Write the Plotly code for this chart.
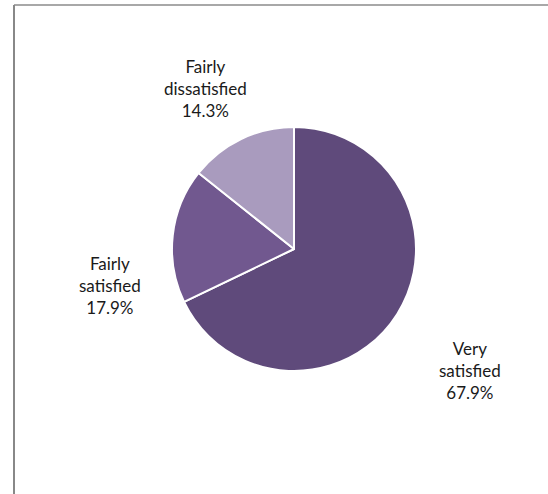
import plotly.graph_objects as go

# Survey responses: satisfaction levels and counts
categories = ["Very satisfied", "Fairly satisfied", "Fairly dissatisfied"]
counts = [19, 5, 4]
colors = ["#5F4A7B", "#71588F", "#A99BBE"]

W, H = 548, 494
total = sum(counts)

fig = go.Figure(
    go.Pie(
        labels=categories,
        values=counts,
        sort=False,
        direction="clockwise",
        rotation=0,
        marker=dict(colors=colors, line=dict(color="white", width=2)),
        textinfo="none",
        hoverinfo="label+percent",
        showlegend=False,
        domain=dict(x=[172 / W, 416 / W], y=[(H - 371) / H, (H - 127) / H]),
    )
)

# Outside labels: category words on separate lines, then the share
label_pos = {
    "Very satisfied": (470, 370),
    "Fairly satisfied": (110, 285),
    "Fairly dissatisfied": (205, 89),
}
for cat, n in zip(categories, counts):
    px, py = label_pos[cat]
    words = cat.split(" ")
    text = "<br>".join(words + [f"{n / total * 100:.1f}%"])
    fig.add_annotation(
        x=px / W, y=1 - py / H, xref="paper", yref="paper",
        text=text, showarrow=False, xanchor="center", yanchor="middle",
        align="center",
        font=dict(family="Lato, Open Sans, sans-serif", size=17, color="#1a1a1a"),
    )

# Chart frame border (top and left edges visible)
fig.add_shape(type="line", xref="paper", yref="paper",
              x0=14 / W, x1=1.0, y0=1 - 5 / H, y1=1 - 5 / H,
              line=dict(color="#A8A8A8", width=2))
fig.add_shape(type="line", xref="paper", yref="paper",
              x0=14 / W, x1=14 / W, y0=1 - 5 / H, y1=0.0,
              line=dict(color="#888888", width=2))

fig.update_layout(
    width=W, height=H,
    margin=dict(l=0, r=0, t=0, b=0),
    paper_bgcolor="white",
    plot_bgcolor="white",
)

fig.write_html("out.html")
